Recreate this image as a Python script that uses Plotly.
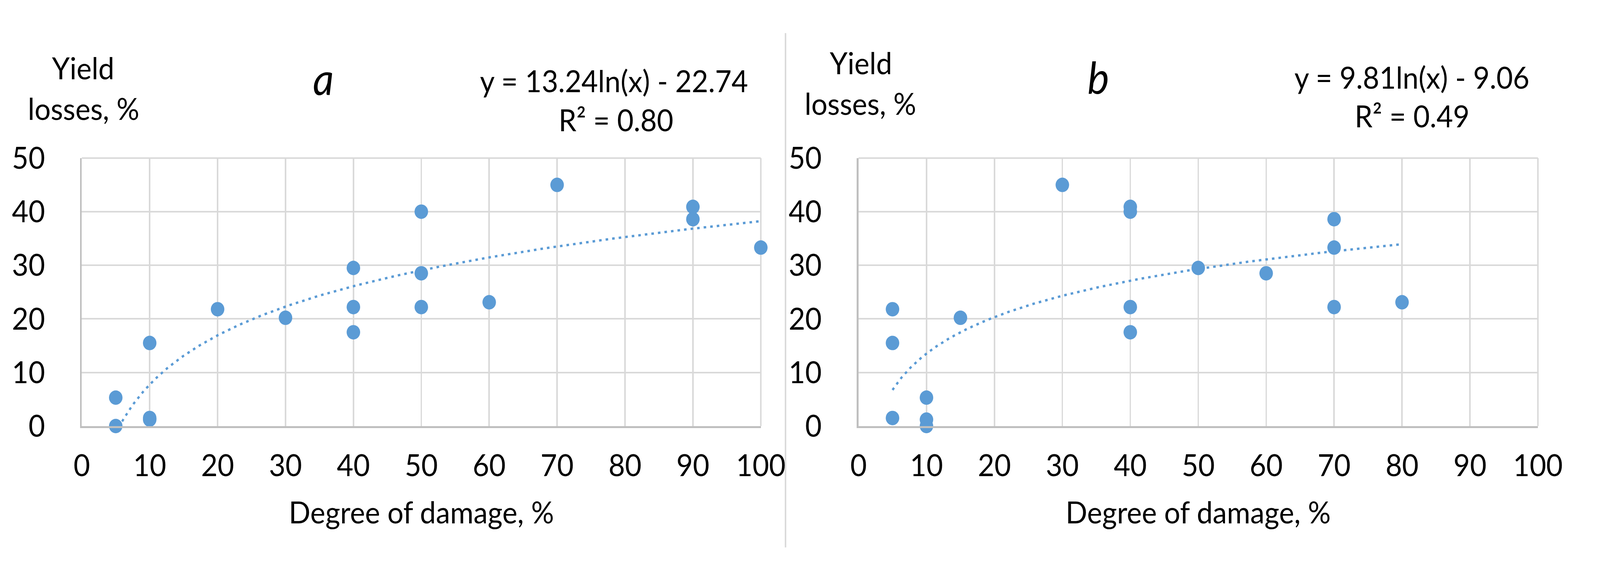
import numpy as np
import plotly.graph_objects as go

W, H = 4377, 1467

# ---------------- data ----------------
# panel a
a_damage = [5, 5, 10, 10, 10, 20, 30, 40, 40, 40, 50, 50, 50, 60, 70, 90, 90, 100]
a_loss = [0.0, 5.3, 1.2, 1.5, 15.5, 21.8, 20.2, 29.5, 22.2, 17.5, 40.0, 28.5, 22.2, 23.1, 45.0, 40.9, 38.6, 33.3]
a_coef = (13.24, -22.74)
a_fit_range = (5, 100)
a_eq = "y = 13.24ln(x) - 22.74"
a_r2 = "R² = 0.80"

# panel b
b_damage = [5, 5, 5, 10, 10, 10, 15, 30, 40, 40, 40, 40, 50, 60, 70, 70, 70, 80]
b_loss = [21.8, 15.5, 1.5, 5.3, 1.2, 0.0, 20.2, 45.0, 40.9, 40.0, 22.2, 17.5, 29.5, 28.5, 38.6, 33.3, 22.2, 23.1]
b_coef = (9.81, -9.06)
b_fit_range = (5, 80)
b_eq = "y = 9.81ln(x) - 9.06"
b_r2 = "R² = 0.49"

x_ticks = [0, 10, 20, 30, 40, 50, 60, 70, 80, 90, 100]
y_ticks = [0, 10, 20, 30, 40, 50]
x_title = "Degree of damage, %"
y_title_lines = ["Yield", "losses, %"]
panel_titles = ["a", "b"]

# ---------------- styling ----------------
BLUE = "#5B9BD5"
GRID = "#D9D9D9"
AXIS = "#BFBFBF"
FONT = "Lato, Carlito, Calibri, sans-serif"
FS = 78

def px_x(p):
    return p / W

def px_y(p):
    return 1 - p / H

ax_a = (205, 2102)
ax_b = (2375, 4273)
y_dom = (px_y(1112), px_y(379))

fig = go.Figure()

def fit_curve(coef, rng):
    xs = np.linspace(rng[0], rng[1], 400)
    return xs, coef[0] * np.log(xs) + coef[1]

for dmg, loss, coef, rng, xa, ya in [
    (a_damage, a_loss, a_coef, a_fit_range, "x", "y"),
    (b_damage, b_loss, b_coef, b_fit_range, "x2", "y2"),
]:
    fig.add_trace(go.Scatter(
        x=dmg, y=loss, mode="markers", xaxis=xa, yaxis=ya,
        marker=dict(size=37, color=BLUE, line=dict(width=0)),
        cliponaxis=False, showlegend=False, hoverinfo="x+y",
    ))
    fx, fy = fit_curve(coef, rng)
    fig.add_trace(go.Scatter(
        x=fx, y=fy, mode="lines", xaxis=xa, yaxis=ya,
        line=dict(color=BLUE, width=6, dash="7px,11px"),
        showlegend=False, hoverinfo="skip",
    ))

axis_common = dict(
    range=[0, 100], tickvals=x_ticks, showgrid=True, gridcolor=GRID, gridwidth=4,
    showline=True, linecolor=AXIS, linewidth=5, zeroline=False, ticks="",
    tickfont=dict(family=FONT, size=FS, color="#000000"), ticklabelstandoff=30,
    fixedrange=True,
)
yaxis_common = dict(
    range=[0, 50], tickvals=y_ticks, showgrid=True, gridcolor=GRID, gridwidth=4,
    showline=True, linecolor=AXIS, linewidth=5, zeroline=False, ticks="",
    tickfont=dict(family=FONT, size=FS, color="#000000"), ticklabelstandoff=80,
    fixedrange=True,
)

fig.update_layout(
    width=W, height=H,
    margin=dict(l=0, r=0, t=0, b=0),
    paper_bgcolor="white", plot_bgcolor="white",
    xaxis=dict(domain=[px_x(ax_a[0]), px_x(ax_a[1])], anchor="y", **axis_common),
    yaxis=dict(domain=list(y_dom), anchor="x", **yaxis_common),
    xaxis2=dict(domain=[px_x(ax_b[0]), px_x(ax_b[1])], anchor="y2", **axis_common),
    yaxis2=dict(domain=list(y_dom), anchor="x2", **yaxis_common),
    font=dict(family=FONT, size=FS, color="#000000"),
)

shapes = []
# top and right plot borders (grid coloured)
for xr, yr in [("x domain", "y domain"), ("x2 domain", "y2 domain")]:
    shapes.append(dict(type="line", xref=xr, yref=yr, x0=0, x1=1, y0=1, y1=1,
                       line=dict(color=GRID, width=4), layer="below"))
    shapes.append(dict(type="line", xref=xr, yref=yr, x0=1, x1=1, y0=0, y1=1,
                       line=dict(color=GRID, width=4), layer="below"))
# divider between panels
shapes.append(dict(type="line", xref="paper", yref="paper",
                   x0=px_x(2171), x1=px_x(2171), y0=px_y(37), y1=px_y(1444),
                   line=dict(color=GRID, width=4)))
fig.update_layout(shapes=shapes)

ann = []
def add_text(text, cx, cy, size=FS):
    ann.append(dict(text=text, x=px_x(cx), y=px_y(cy), xref="paper", yref="paper",
                    xanchor="center", yanchor="middle", showarrow=False,
                    font=dict(family=FONT, size=size, color="#000000")))

# y-axis titles
add_text(y_title_lines[0], 209, 131)
add_text(y_title_lines[1], 210, 243)
add_text(y_title_lines[0], 2382, 117)
add_text(y_title_lines[1], 2380, 229)
# panel titles
add_text("<i>%s</i>" % panel_titles[0], 880, 160, size=112)
add_text("<i>%s</i>" % panel_titles[1], 3045, 157, size=112)
# equations
add_text(a_eq, 1692, 167)
add_text(a_r2, 1697, 274)
add_text(b_eq, 3921, 157)
add_text(b_r2, 3922, 263)
# x-axis titles
add_text(x_title, (ax_a[0] + ax_a[1]) / 2, 1346)
add_text(x_title, (ax_b[0] + ax_b[1]) / 2, 1346)

fig.update_layout(annotations=ann)

# the browser viewport may be narrower than requested (e.g. capped at 4096 px):
# fit the fixed-size figure exactly into whatever viewport is available
fit_js = """
(function(){
  var gd = document.getElementById('{plot_id}');
  var de = document.documentElement, bd = document.body;
  de.style.margin = '0'; de.style.padding = '0'; de.style.overflow = 'hidden';
  bd.style.margin = '0'; bd.style.padding = '0'; bd.style.overflow = 'hidden';
  function fit(){
    var sx = window.innerWidth / %d, sy = window.innerHeight / %d;
    gd.style.transformOrigin = '0 0';
    gd.style.transform = 'scale(' + sx + ',' + sy + ')';
  }
  fit();
  window.addEventListener('resize', fit);
})();
""" % (W, H)

fig.write_html("out.html", post_script=fit_js, config={"displayModeBar": False})
